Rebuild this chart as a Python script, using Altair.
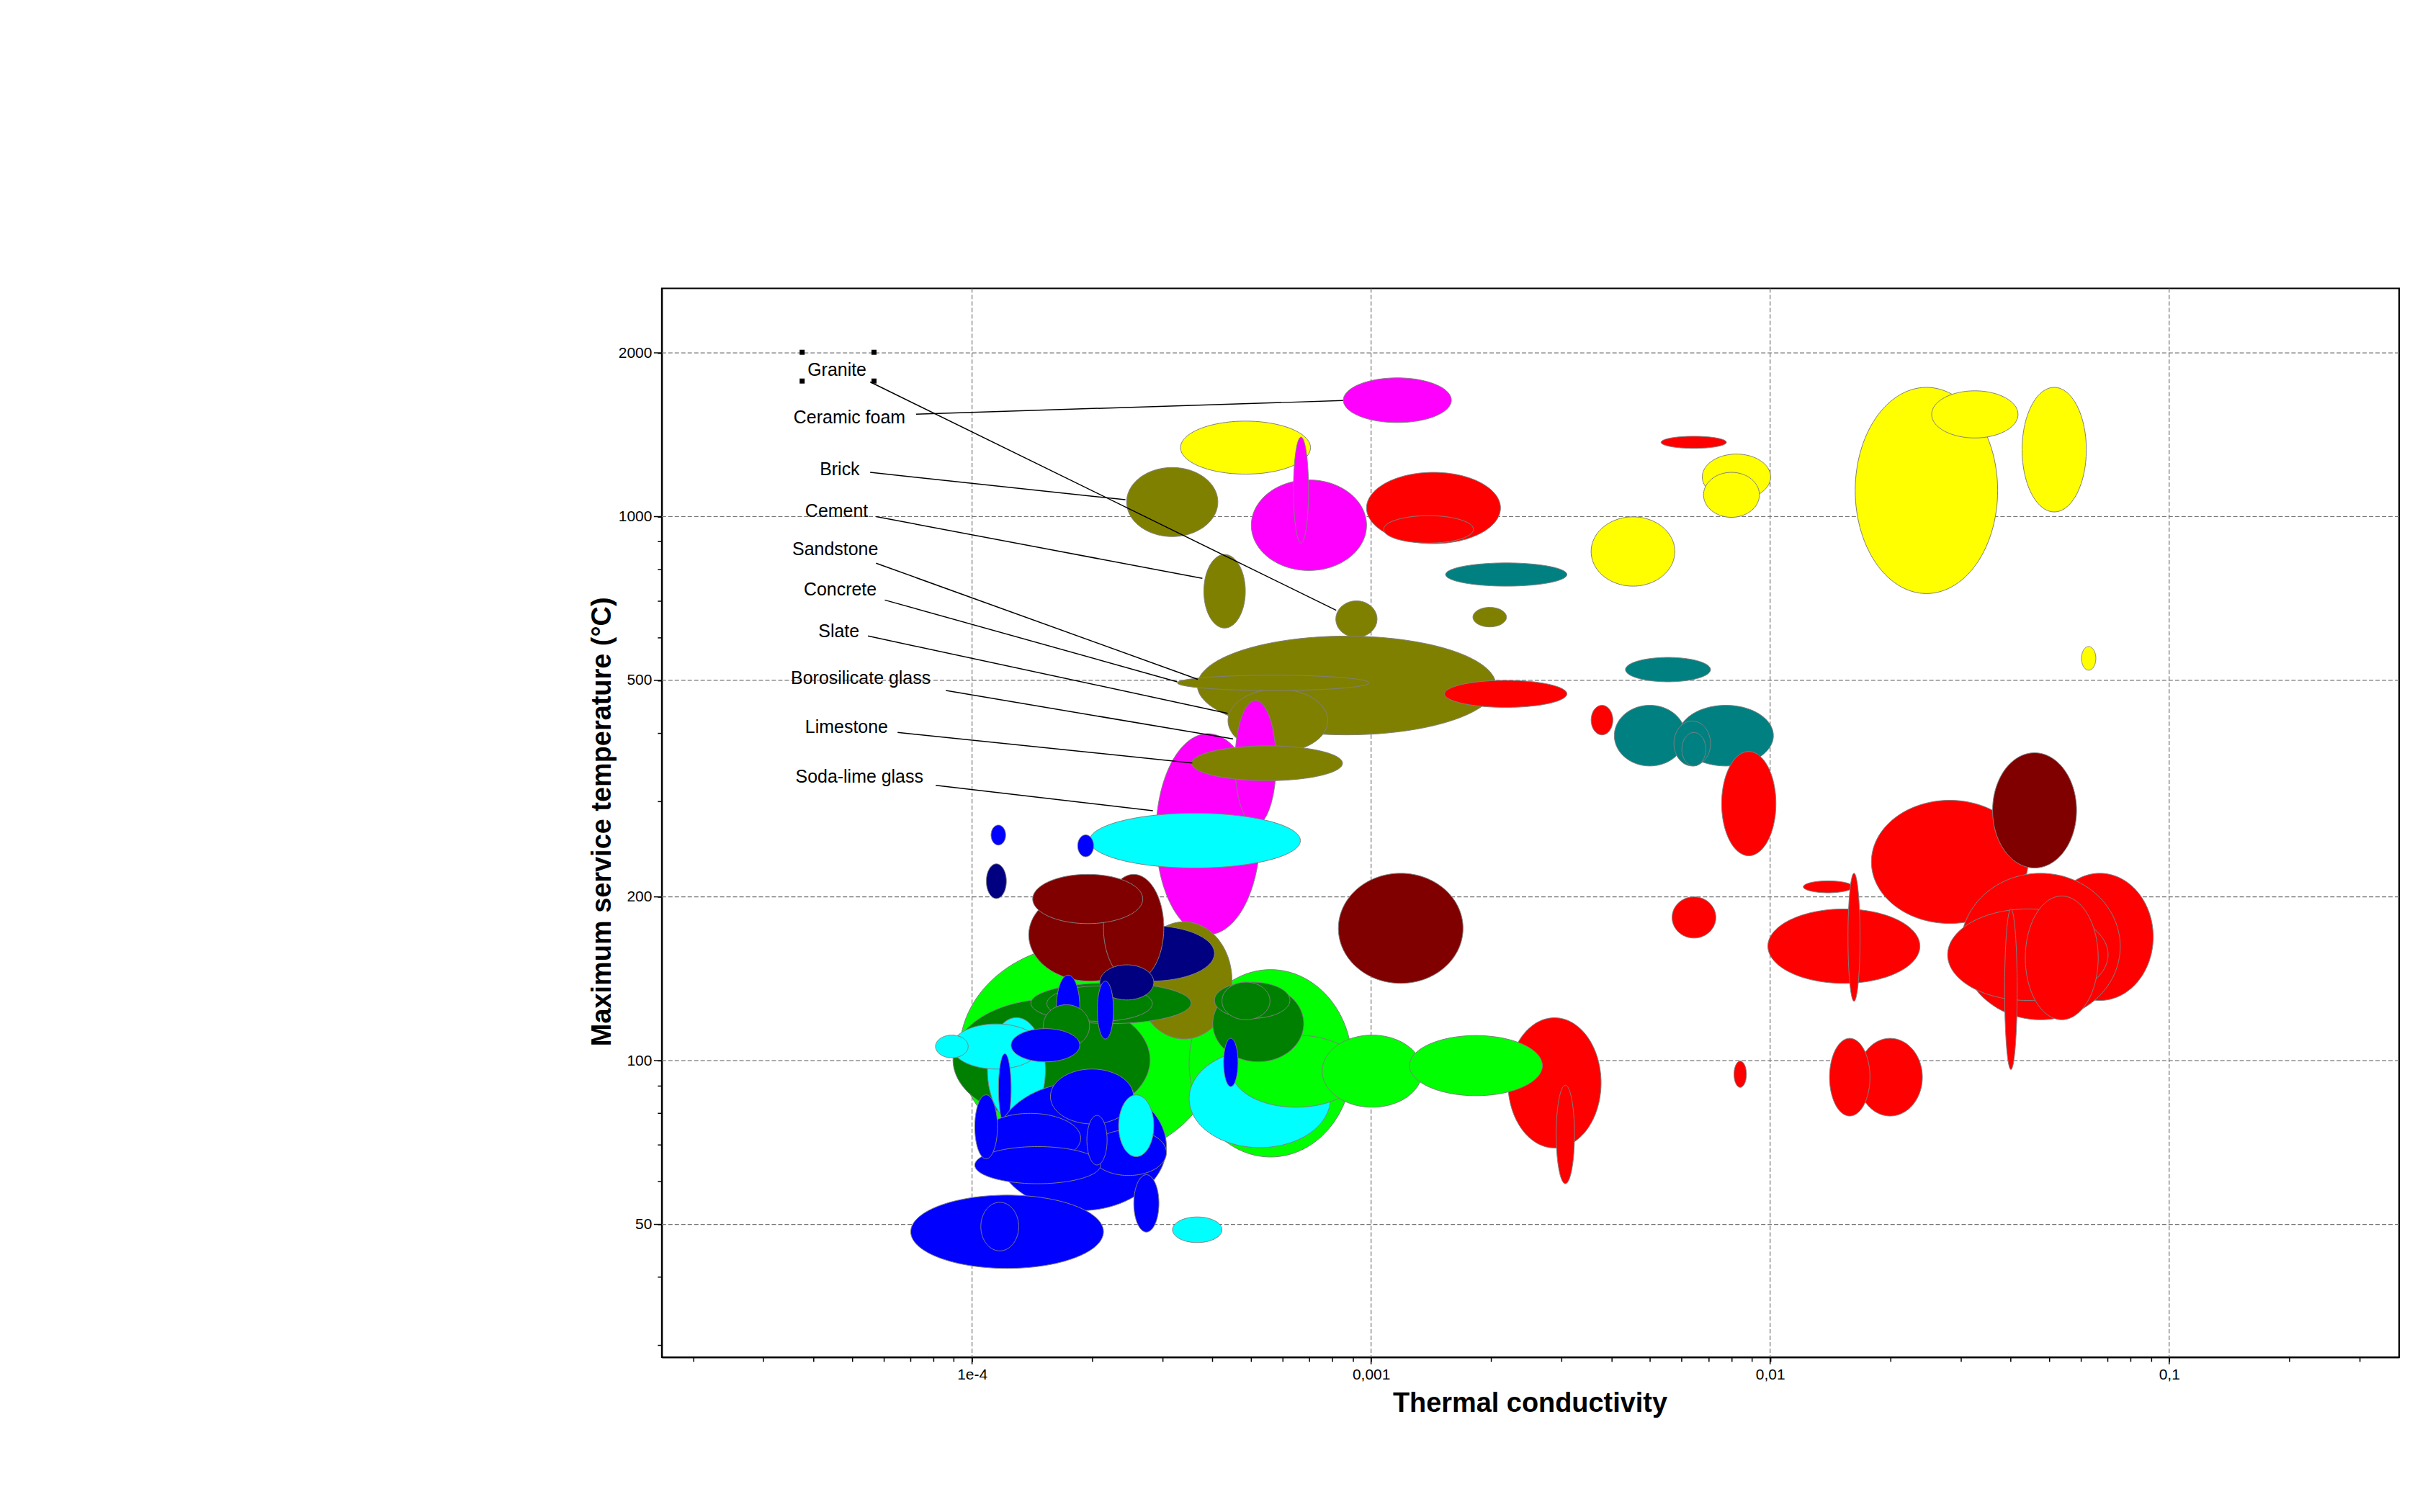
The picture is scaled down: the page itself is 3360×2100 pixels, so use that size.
import altair as alt
import pandas as pd

# ---------------- ellipse data (property ranges, back to front) ----------------
family = [
    "yellow", "magenta", "magenta", "olive", "red", "red", "magenta", "olive", "olive", "olive",
    "teal", "yellow", "red", "yellow", "yellow", "yellow", "yellow", "yellow", "yellow", "teal",
    "magenta", "olive", "olive", "olive", "magenta", "olive", "red", "cyan", "blue", "blue",
    "navy", "lime", "lime", "olive", "navy", "maroon", "maroon", "maroon", "green", "cyan",
    "lime", "lime", "red", "red", "lime", "green", "green", "green", "blue", "green",
    "green", "blue", "green", "navy", "blue", "cyan", "cyan", "cyan", "blue", "blue",
    "blue", "blue", "blue", "blue", "blue", "blue", "blue", "cyan", "blue", "blue",
    "blue", "cyan", "maroon", "teal", "teal", "teal", "teal", "red", "red", "red",
    "red", "red", "red", "red", "maroon", "red", "red", "red", "red", "red",
    "red", "red", "red",
]
k_lo = [
    3.33e-4, 5.01e-4, 6.39e-4, 2.44e-4, 9.74e-4, 1.075e-3, 8.52e-4, 3.81e-4, 8.16e-4, 1.80e-3,
    1.537e-3, 3.56e-3, 5.33e-3, 6.76e-3, 6.81e-3, 1.634e-2, 2.54e-2, 4.28e-2, 6.03e-2, 4.34e-3,
    2.89e-4, 3.67e-4, 4.38e-4, 3.27e-4, 4.56e-4, 3.55e-4, 1.528e-3, 1.97e-4, 1.116e-4, 1.84e-4,
    1.086e-4, 9.31e-5, 3.50e-4, 2.58e-4, 1.955e-4, 1.387e-4, 2.135e-4, 1.419e-4, 8.96e-5, 3.50e-4,
    4.48e-4, 7.54e-4, 2.203e-3, 2.91e-3, 1.248e-3, 4.01e-4, 4.05e-4, 4.23e-4, 4.27e-4, 1.404e-4,
    1.54e-4, 1.628e-4, 1.508e-4, 2.09e-4, 2.06e-4, 1.093e-4, 8.91e-5, 8.1e-5, 1.253e-4, 1.165e-4,
    1.141e-4, 1.572e-4, 1.046e-4, 1.983e-4, 1.016e-4, 1.016e-4, 1.94e-4, 2.33e-4, 2.543e-4, 7.02e-5,
    1.052e-4, 3.18e-4, 8.28e-4, 4.07e-3, 5.89e-3, 5.74e-3, 6.01e-3, 3.56e-3, 7.56e-3, 5.68e-3,
    9.87e-3, 1.211e-2, 1.567e-2, 1.794e-2, 3.61e-2, 4.925e-2, 3.003e-2, 2.785e-2, 4.36e-2, 3.87e-2,
    1.659e-2, 1.409e-2, 8.12e-3,
]
k_hi = [
    7.05e-4, 9.74e-4, 6.97e-4, 4.13e-4, 2.11e-3, 1.805e-3, 1.589e-3, 4.84e-4, 1.035e-3, 2.184e-3,
    3.095e-3, 5.77e-3, 7.77e-3, 1.003e-2, 9.40e-3, 3.717e-2, 4.18e-2, 6.20e-2, 6.55e-2, 7.09e-3,
    5.27e-4, 2.055e-3, 7.79e-4, 9.89e-4, 5.78e-4, 8.48e-4, 3.095e-3, 6.65e-4, 1.214e-4, 2.017e-4,
    1.219e-4, 4.11e-4, 8.96e-4, 4.48e-4, 4.05e-4, 2.814e-4, 3.024e-4, 2.678e-4, 2.794e-4, 7.91e-4,
    9.41e-4, 1.343e-3, 3.77e-3, 3.234e-3, 2.687e-3, 6.78e-4, 6.26e-4, 5.58e-4, 4.64e-4, 3.54e-4,
    2.83e-4, 1.862e-4, 1.97e-4, 2.854e-4, 2.262e-4, 1.527e-4, 1.484e-4, 9.78e-5, 1.862e-4, 1.253e-4,
    3.07e-4, 2.54e-4, 1.872e-4, 3.07e-4, 2.10e-4, 1.158e-4, 2.18e-4, 2.854e-4, 2.94e-4, 2.135e-4,
    1.309e-4, 4.23e-4, 1.70e-3, 6.13e-3, 1.019e-2, 7.09e-3, 6.90e-3, 4.035e-3, 1.034e-2, 7.31e-3,
    2.373e-2, 1.612e-2, 1.68e-2, 4.43e-2, 5.86e-2, 9.12e-2, 7.54e-2, 7.03e-2, 6.64e-2, 4.16e-2,
    2.407e-2, 1.779e-2, 8.72e-3,
]
t_lo = [
    1197, 796, 894, 919, 892, 894, 1489, 624, 600, 627,
    745, 745, 1335, 1074, 997, 722, 1395, 1020, 522, 497,
    170.5, 397, 369, 479, 271, 327, 446, 226, 249, 237,
    198.6, 65.9, 66.5, 109.6, 140, 140, 140, 178.6, 77.5, 69.2,
    82.1, 82.1, 69.1, 59.4, 86.2, 99.5, 119.6, 118.9, 89.6, 117,
    118.1, 110, 105.9, 129.3, 109.6, 77, 96.5, 101.2, 99.5, 76.5,
    53.0, 76.5, 64.8, 61.5, 59.4, 66.0, 64.3, 66.6, 48.4, 41.5,
    44.7, 46.3, 138.7, 348, 348, 348, 348, 397, 238, 168,
    138.7, 203.5, 128.6, 178.7, 226, 129, 118.9, 129, 118.9, 96.3,
    79.1, 79.1, 89.3,
]
t_hi = [
    1498, 1168, 1400, 1231, 1206, 1004, 1799, 852, 700, 681,
    822, 999, 1405, 1303, 1206, 1728, 1703, 1728, 577, 551,
    399, 603, 482, 511, 459, 379, 500, 285, 271, 260,
    230, 164, 147, 180, 177, 207, 220, 220, 129.8, 104.8,
    111.4, 111.4, 119.9, 90.1, 111.2, 137.5, 139.4, 139.4, 109.9, 139,
    137.2, 143.6, 126.7, 150, 140, 120, 116.8, 111.4, 114.5, 103,
    91.2, 96.5, 80, 74.6, 69.5, 86.5, 79.3, 86.5, 61.7, 56.6,
    54.9, 51.6, 221, 450, 450, 421, 401, 450, 370, 200,
    190, 214, 221, 301, 368, 221, 221, 190, 200.7, 190,
    109.9, 109.9, 99.8,
]

fam_names = ["magenta", "yellow", "olive", "red", "teal", "maroon",
             "lime", "green", "cyan", "blue", "navy"]
fam_colors = ["#ff00ff", "#ffff00", "#808000", "#ff0000", "#008080", "#800000",
              "#00ff00", "#008000", "#00ffff", "#0000ff", "#000080"]

# ---------------- annotation data ----------------
label_names = ["Granite", "Ceramic foam", "Brick", "Cement", "Sandstone", "Concrete",
               "Slate", "Borosilicate glass", "Limestone", "Soda-lime glass"]
label_k = [3.87e-5, 3.571e-5, 4.153e-5, 3.817e-5, 3.544e-5, 3.787e-5,
           4.121e-5, 3.516e-5, 3.817e-5, 3.611e-5]
label_t = [1816, 1486, 1190, 1000, 849.4, 716.8, 600.9, 492.3, 400, 323.9]

lead_k0 = [5.555e-5, 7.238e-5, 5.555e-5, 5.748e-5, 5.748e-5, 6.045e-5, 5.484e-5, 8.597e-5, 6.509e-5, 8.111e-5]
lead_t0 = [1768, 1543, 1206, 1000, 821, 702.5, 603.4, 478.9, 401.1, 320.6]
lead_k1 = [8.177e-4, 8.509e-4, 2.423e-4, 3.777e-4, 3.679e-4, 3.267e-4, 4.37e-4, 4.51e-4, 3.565e-4, 2.84e-4]
lead_t1 = [672.7, 1634, 1074, 770, 502.3, 497, 435, 390.2, 352.5, 288]

handle_k = [3.752e-5, 5.68e-5, 3.752e-5, 5.68e-5]
handle_t = [2005, 2005, 1775, 1775]

# ---------------- axes ----------------
x_major = [1e-4, 1e-3, 1e-2, 1e-1]
y_major = [50, 100, 200, 500, 1000, 2000]
x_ticks = [2e-5, 3e-5, 4e-5, 5e-5, 6e-5, 7e-5, 8e-5, 9e-5,
           1e-4, 2e-4, 3e-4, 4e-4, 5e-4, 6e-4, 7e-4, 8e-4, 9e-4,
           1e-3, 2e-3, 3e-3, 4e-3, 5e-3, 6e-3, 7e-3, 8e-3, 9e-3,
           1e-2, 2e-2, 3e-2, 4e-2, 5e-2, 6e-2, 7e-2, 8e-2, 9e-2,
           0.1, 0.2, 0.3]
y_ticks = [30, 40, 50, 60, 70, 80, 90, 100, 200, 300, 400, 500,
           600, 700, 800, 900, 1000, 2000]

W, H = 2418, 1488
FONT = "Liberation Sans"

xs = alt.Scale(type="log", domain=[1.669e-5, 0.377], nice=False)
ys = alt.Scale(type="log", domain=[28.5, 2627], nice=False)

x_axis = alt.Axis(
    orient="bottom",
    values=x_ticks,
    labelExpr=("abs(datum.value - 0.0001) < 1e-9 ? '1e-4' : "
               "abs(datum.value - 0.001) < 1e-8 ? '0,001' : "
               "abs(datum.value - 0.01) < 1e-7 ? '0,01' : "
               "abs(datum.value - 0.1) < 1e-6 ? '0,1' : ''"),
    grid=False, ticks=True, tickSize=6, tickColor="black", tickWidth=1.5,
    domain=True, domainColor="black", domainWidth=2,
    labels=True, labelFont=FONT, labelFontSize=21, labelColor="black", labelPadding=8,
    labelOverlap=False, labelFlush=False,
    title="Thermal conductivity", titleFont=FONT, titleFontSize=38,
    titleFontWeight="bold", titleColor="black",
    titleX=1208, titleY=76, titleAlign="center", titleBaseline="alphabetic", titleAngle=0,
)
y_axis = alt.Axis(
    orient="left",
    values=y_ticks,
    labelExpr="indexof([50, 100, 200, 500, 1000, 2000], datum.value) >= 0 ? '' + datum.value : ''",
    grid=False, ticks=True, tickSize=6, tickColor="black", tickWidth=1.5,
    domain=True, domainColor="black", domainWidth=2,
    labels=True, labelFont=FONT, labelFontSize=21, labelColor="black", labelPadding=8,
    labelOverlap=False, labelFlush=False,
    title="Maximum service temperature (°C)", titleFont=FONT, titleFontSize=38,
    titleFontWeight="bold", titleColor="black",
    titleX=-82, titleY=742, titleAlign="center", titleBaseline="middle", titleAngle=270,
)

ell = pd.DataFrame({"family": family, "kmin": k_lo, "kmax": k_hi, "tmin": t_lo, "tmax": t_hi})
ell["eid"] = [f"e{i:03d}" for i in range(len(ell))]

ellipses = alt.Chart(ell).transform_calculate(
    s="sequence(0, 61)"
).transform_flatten(["s"]).transform_calculate(
    th="PI - PI * datum.s / 60",
    cx="(log(datum.kmin) + log(datum.kmax)) / 2",
    rx="(log(datum.kmax) - log(datum.kmin)) / 2",
    cy="(log(datum.tmin) + log(datum.tmax)) / 2",
    ry="(log(datum.tmax) - log(datum.tmin)) / 2",
).transform_calculate(
    k="exp(datum.cx + datum.rx * cos(datum.th))",
    tlo="exp(datum.cy - datum.ry * sin(datum.th))",
    thi="exp(datum.cy + datum.ry * sin(datum.th))",
).mark_area(
    stroke="#808080", strokeWidth=1, opacity=1, interpolate="linear", orient="vertical"
).encode(
    x=alt.X("k:Q", scale=xs, axis=x_axis),
    y=alt.Y("tlo:Q", scale=ys, axis=y_axis, stack=None),
    y2="thi:Q",
    fill=alt.Fill("family:N", scale=alt.Scale(domain=fam_names, range=fam_colors), legend=None),
    detail="eid:N",
)

gridx = alt.Chart(pd.DataFrame({"v": x_major})).mark_rule(
    color="#747474", strokeDash=[6, 3], strokeWidth=1.2
).encode(x=alt.X("v:Q", scale=xs, axis=None))
gridy = alt.Chart(pd.DataFrame({"v": y_major})).mark_rule(
    color="#747474", strokeDash=[6, 3], strokeWidth=1.2
).encode(y=alt.Y("v:Q", scale=ys, axis=None))

lead = pd.DataFrame({"k0": lead_k0, "t0": lead_t0, "k1": lead_k1, "t1": lead_t1})
leaders = alt.Chart(lead).mark_rule(color="black", strokeWidth=1.5).encode(
    x=alt.X("k0:Q", scale=xs, axis=None),
    y=alt.Y("t0:Q", scale=ys, axis=None),
    x2="k1:Q", y2="t1:Q",
)

lab = pd.DataFrame({"name": label_names, "k": label_k, "t": label_t})
labels = alt.Chart(lab).mark_text(
    align="left", baseline="alphabetic", font=FONT, fontSize=25, color="black"
).encode(
    x=alt.X("k:Q", scale=xs, axis=None),
    y=alt.Y("t:Q", scale=ys, axis=None),
    text="name:N",
)

handles = alt.Chart(pd.DataFrame({"k": handle_k, "t": handle_t})).mark_square(
    size=49, color="black", filled=True, opacity=1
).encode(x=alt.X("k:Q", scale=xs, axis=None), y=alt.Y("t:Q", scale=ys, axis=None))

major_tx = alt.Chart(pd.DataFrame({"v": x_major})).mark_rule(color="black", strokeWidth=1.5).encode(
    x=alt.X("v:Q", scale=xs, axis=None), y=alt.value(H), y2=alt.value(H + 10)
)
major_ty = alt.Chart(pd.DataFrame({"v": y_major})).mark_rule(color="black", strokeWidth=1.5).encode(
    y=alt.Y("v:Q", scale=ys, axis=None), x=alt.value(-11), x2=alt.value(0)
)

chart = alt.layer(
    gridx, gridy, ellipses, leaders, labels, handles, major_tx, major_ty
).resolve_axis(
    x="independent", y="independent"
).properties(
    width=W, height=H,
    autosize=alt.AutoSizeParams(type="none"),
    padding={"left": 913, "top": 391, "right": 21, "bottom": 213},
    background="white",
).configure_view(stroke="black", strokeWidth=2)

chart.save("out.html", embed_options={"renderer": "svg", "actions": False})
